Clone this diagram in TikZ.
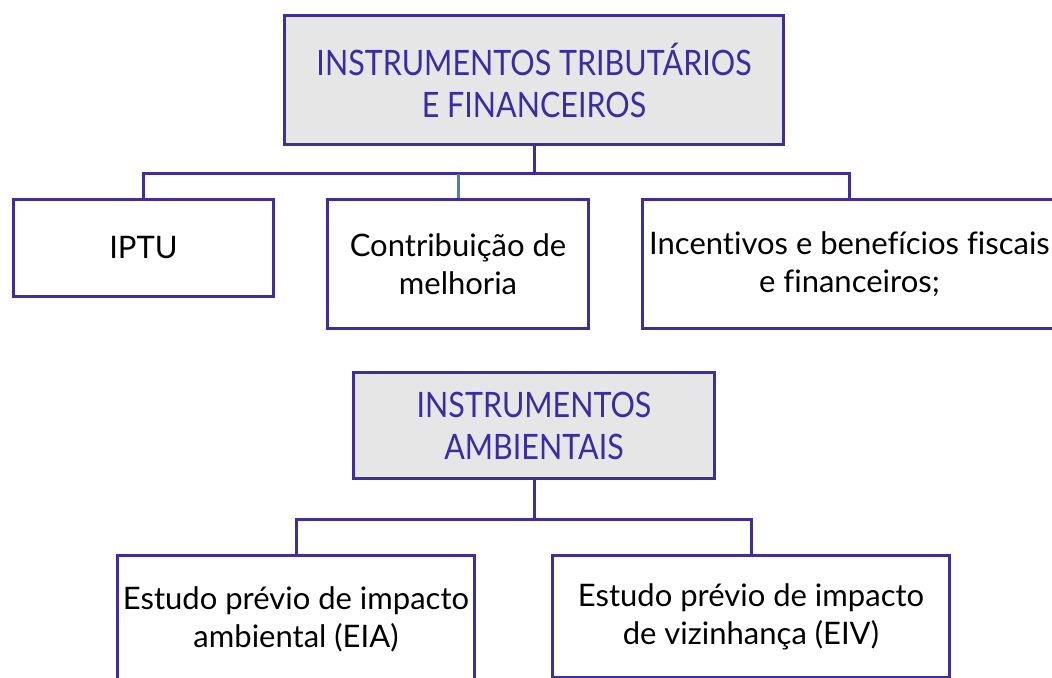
\documentclass[tikz,border=0pt]{standalone}
\usepackage{fontspec}
\setmainfont[Ligatures=NoCommon]{Lato}
\newfontfamily\titlefont[FakeStretch=0.87]{Lato}
\usepackage{tikz}
\usetikzlibrary{positioning, calc}

\definecolor{framec}{HTML}{3E2E9E}
\definecolor{titlec}{HTML}{3B2BA4}
\definecolor{titlefill}{HTML}{E6E6E6}
\definecolor{midc}{HTML}{4A80B2}

\begin{document}
\begin{tikzpicture}[
    x=0.5pt, y=-0.5pt,
    titlebox/.style={
        rectangle, draw=framec, line width=1.5pt,
        fill=titlefill, anchor=north west,
        align=center, text=titlec, inner sep=0pt,
        font=\titlefont\fontsize{17.5}{21}\selectfont
    },
    itembox/.style={
        rectangle, draw=framec, line width=1.5pt,
        fill=white, anchor=north west,
        align=center, inner sep=0pt,
        font=\fontsize{15.5}{19}\selectfont
    },
    link/.style={draw=framec, line width=1.5pt},
    midlink/.style={draw=midc, line width=1.5pt}
]
\useasboundingbox (0,0) rectangle (1052,678);

% ── Instrumentos tributarios ──
\node[titlebox, minimum width=249.5pt, minimum height=64.5pt] (trib) at (283,14)
    {INSTRUMENTOS TRIBUTÁRIOS\\E FINANCEIROS};
\node[itembox, minimum width=130pt, minimum height=48.5pt] (iptu) at (12,198) {IPTU};
\node[itembox, minimum width=130.5pt, minimum height=64.5pt] (contrib) at (326,198)
    {Contribuição de\\melhoria};
\node[itembox, minimum width=207pt, minimum height=64.5pt] (incent) at (641,198)
    {Incentivos e benefícios fiscais\\e financeiros;};

\coordinate (tj) at ($(trib.south)+(0,28)$);
\draw[link] (trib.south) -- (tj);
\draw[link] (tj) -| (iptu.north);
\draw[link] (tj) -| (incent.north);
\draw[midlink] (contrib.north) -- (contrib.north |- tj);

% ── Instrumentos ambientais ──
\node[titlebox, minimum width=180.5pt, minimum height=53pt] (amb) at (352,371)
    {INSTRUMENTOS\\AMBIENTAIS};
\node[itembox, minimum width=178.5pt, minimum height=64pt] (eia) at (116,554)
    {Estudo prévio de impacto\\ambiental (EIA)};
\node[itembox, minimum width=198.5pt, minimum height=61pt] (eiv) at (551,554)
    {Estudo prévio de impacto\\de vizinhança (EIV)};

\coordinate (aj) at ($(amb.south)+(0,39)$);
\draw[link] (amb.south) -- (aj);
\draw[link] (aj) -| (eia.north);
\draw[link] (aj) -| (eiv.north);

\end{tikzpicture}
\end{document}
